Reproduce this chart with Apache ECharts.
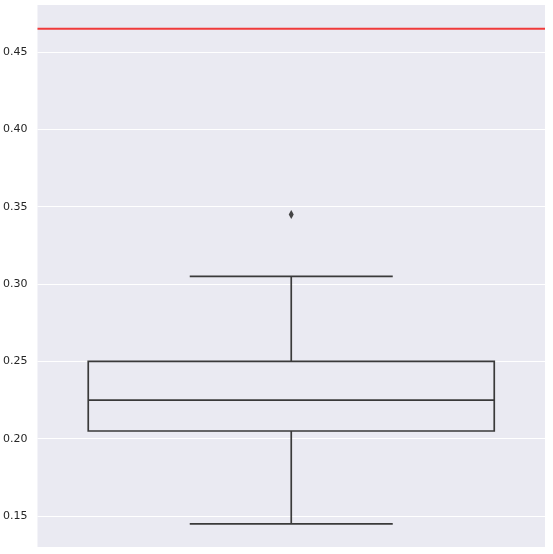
<!DOCTYPE html>
<html>
<head>
<meta charset="utf-8">
<script src="https://cdn.jsdelivr.net/npm/echarts@6/dist/echarts.min.js"></script>
<style>
html, body { margin: 0; padding: 0; background: #fff; }
#chart { width: 553px; height: 554px; }
</style>
</head>
<body>
<div id="chart"></div>
<script>
// box stats: [lowWhisker, q1, median, q3, highWhisker]
var categories = [''];
var boxStats = [[0.145, 0.205, 0.225, 0.25, 0.305]];
var outliers = [[0, 0.345]];
var refLine = 0.465;
var yTicks = [0.15, 0.20, 0.25, 0.30, 0.35, 0.40, 0.45];

var lineColor = '#3a3a3a';

function renderBox(params, api) {
    var idx = api.value(0);
    var low = api.coord([idx, api.value(1)]);
    var q1 = api.coord([idx, api.value(2)]);
    var med = api.coord([idx, api.value(3)]);
    var q3 = api.coord([idx, api.value(4)]);
    var high = api.coord([idx, api.value(5)]);
    var band = api.size([1, 0])[0];
    var cx = low[0];
    var halfBox = band * 0.4;
    var halfCap = band * 0.2;
    var style = { stroke: lineColor, lineWidth: 1.7, fill: null };
    return {
        type: 'group',
        children: [
            { type: 'line', shape: { x1: cx, y1: q3[1], x2: cx, y2: high[1] }, style: style },
            { type: 'line', shape: { x1: cx, y1: q1[1], x2: cx, y2: low[1] }, style: style },
            { type: 'line', shape: { x1: cx - halfCap, y1: high[1], x2: cx + halfCap, y2: high[1] }, style: style },
            { type: 'line', shape: { x1: cx - halfCap, y1: low[1], x2: cx + halfCap, y2: low[1] }, style: style },
            { type: 'rect', shape: { x: cx - halfBox, y: q3[1], width: halfBox * 2, height: q1[1] - q3[1] }, style: style },
            { type: 'line', shape: { x1: cx - halfBox, y1: med[1], x2: cx + halfBox, y2: med[1] }, style: style }
        ]
    };
}

// horizontal reference line across the whole plot area
function renderRefLine(params, api) {
    var y = api.coord([0, api.value(1)])[1];
    var cs = params.coordSys;
    return {
        type: 'line',
        shape: { x1: cs.x, y1: y, x2: cs.x + cs.width, y2: y },
        style: { stroke: '#f03a3a', lineWidth: 2 }
    };
}

var chart = echarts.init(document.getElementById('chart'));
var option = {
    animation: false,
    backgroundColor: '#ffffff',
    grid: {
        left: 37, right: 8, top: 5, bottom: 7,
        show: true, backgroundColor: '#EAEAF2', borderWidth: 0
    },
    xAxis: {
        type: 'category',
        data: categories,
        axisLine: { show: false },
        axisTick: { show: false },
        axisLabel: { show: false },
        splitLine: { show: false }
    },
    yAxis: {
        type: 'value',
        min: 0.13,
        max: 0.4804,
        axisLine: { show: false },
        axisTick: { show: false, customValues: yTicks },
        axisLabel: {
            color: '#262626',
            fontSize: 11,
            fontFamily: 'DejaVu Sans',
            margin: 10,
            customValues: yTicks,
            formatter: function (v) { return v.toFixed(2); }
        },
        splitLine: { show: true, lineStyle: { color: '#ffffff', width: 1 } }
    },
    series: [
        {
            type: 'custom',
            renderItem: renderBox,
            data: boxStats.map(function (s, i) { return [i].concat(s); }),
            encode: { x: 0, y: [1, 2, 3, 4, 5] },
            z: 3
        },
        {
            type: 'custom',
            renderItem: renderRefLine,
            data: [[0, refLine]],
            encode: { x: 0, y: 1 },
            z: 5
        },
        {
            type: 'scatter',
            data: outliers,
            symbol: 'diamond',
            symbolSize: [5, 9],
            itemStyle: { color: '#1a1a1a' },
            z: 4
        }
    ]
};
chart.setOption(option);
</script>
</body>
</html>
